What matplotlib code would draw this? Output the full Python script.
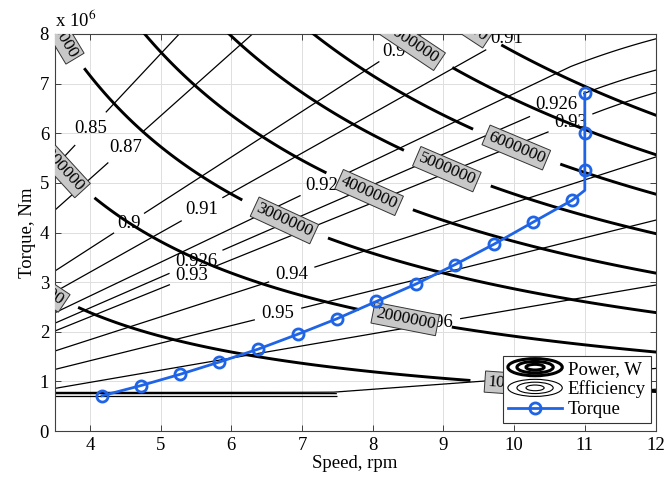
import numpy as np
import matplotlib
matplotlib.use('Agg')
import matplotlib.pyplot as plt
from matplotlib.legend_handler import HandlerBase
from matplotlib.patches import Ellipse
from matplotlib.lines import Line2D
from matplotlib.ticker import FuncFormatter, MultipleLocator

plt.rcParams['font.family'] = ['Liberation Serif', 'DejaVu Serif']
plt.rcParams['mathtext.fontset'] = 'stix'

# ---------------- data ----------------
speed_rpm = [4.17, 4.72, 5.27, 5.83, 6.38, 6.94, 7.49, 8.05, 8.61, 9.16,
             9.71, 10.27, 10.82, 11.0, 11.0, 11.0, 11.0]
torque_nm = [0.71e6, 0.915e6, 1.14e6, 1.39e6, 1.65e6, 1.95e6, 2.26e6, 2.61e6,
             2.96e6, 3.35e6, 3.76e6, 4.21e6, 4.65e6, 4.85e6, 5.26e6, 6.01e6, 6.82e6]
torque_marker_idx = [0, 1, 2, 3, 4, 5, 6, 7, 8, 9, 10, 11, 12, 14, 15, 16]

power_levels_w = [1e6, 2e6, 3e6, 4e6, 5e6, 6e6, 7e6, 8e6]
eff_levels = [0.85, 0.87, 0.90, 0.91, 0.92, 0.926, 0.93, 0.94, 0.95, 0.96,
              0.97, 0.975, 0.98]

# efficiency along rays of constant torque/speed ratio (1e6 Nm per rpm)
eff_ratio_knots = [0.00, 0.05, 0.07, 0.105, 0.245, 0.354, 0.46, 0.575, 0.62,
                   0.68, 0.80, 0.92, 1.27, 1.52, 3.0]
eff_ratio_vals = [0.99, 0.98, 0.975, 0.97, 0.96, 0.95, 0.94, 0.93, 0.926,
                  0.92, 0.91, 0.90, 0.87, 0.85, 0.75]
# low-torque band of the efficiency map
eff_lowT_knots = [0.70e6, 0.71e6, 0.7533e6, 0.78e6, 0.80e6]
eff_lowT_vals = [0.982, 0.98, 0.975, 0.97, 0.0]
lowT_band_max_speed = 7.5
lowT_band_top = 0.77e6
# slight droop of the map in the high-speed / high-torque corner
droop_gain = 0.0012
droop_speed = 10.8
droop_torque = 6.4e6

# contour label anchor points (speed, torque)
power_label_xy = [(3.25, 2.94e6), (10.05, 0.95e6), (3.58, 5.33e6), (8.46, 2.26e6),
                  (3.55, 8.07e6), (6.75, 4.24e6), (7.95, 4.81e6), (9.05, 5.28e6),
                  (10.03, 5.71e6), (8.56, 7.81e6), (9.25, 8.26e6)]
eff_label_xy = [(4.0, 6.1e6), (4.51, 5.7e6), (4.57, 4.16e6), (8.3, 7.65e6),
                (5.6, 4.44e6), (9.9, 7.9e6), (7.27, 4.97e6), (5.5, 3.41e6),
                (10.6, 6.57e6), (5.44, 3.13e6), (10.8, 6.2e6), (6.85, 3.17e6),
                (6.66, 2.36e6), (8.9, 2.2e6)]

# ---------------- fields ----------------
xs = np.linspace(2.5, 12.5, 700)
ts = np.linspace(0.70e6, 9.0e6, 1400)
X, T = np.meshgrid(xs, ts)

ratio = (T / 1e6) / X
eff_main = np.interp(ratio, eff_ratio_knots, eff_ratio_vals)
eff_low = np.interp(T, eff_lowT_knots, eff_lowT_vals, right=0.0)
E = np.maximum(eff_main, eff_low)
E = E - droop_gain * np.clip(X - droop_speed, 0, None) * np.clip((T - droop_torque) / 1e6, 0, None)
E = np.ma.masked_where((T < lowT_band_top) & (X > lowT_band_max_speed), E)

xs_p = np.linspace(2.5, 12.5, 500)
ts_p = np.linspace(0.0, 9.0e6, 900)
XP, TP = np.meshgrid(xs_p, ts_p)
PP = TP * XP * 2 * np.pi / 60.0

# ---------------- figure ----------------
fig = plt.figure(figsize=(6.69, 4.84), dpi=100)
ax = fig.add_axes([54.6 / 669, 53 / 484, (655.5 - 54.6) / 669, (431 - 34) / 484])

ax.grid(True, color='#dedede', lw=0.7)
ax.set_axisbelow(True)

cs_e = ax.contour(X, T, E, levels=eff_levels, colors='k', linewidths=0.9, zorder=2)
e_texts = ax.clabel(cs_e, manual=eff_label_xy, fmt=lambda v: f'{v:g}',
                    fontsize=13.5, inline=True, inline_spacing=4)
for t in e_texts:
    t.set_rotation(0)
    t.set_clip_on(True)

cs_p = ax.contour(XP, TP, PP, levels=power_levels_w, colors='k', linewidths=2.1, zorder=3)
p_texts = ax.clabel(cs_p, manual=power_label_xy, fmt='%d', fontsize=12.5,
                    inline=True, inline_spacing=10)
for t in p_texts:
    t.set_bbox(dict(boxstyle='square,pad=0.15', fc='#c8c8c8', ec='#333333', lw=0.7))
    t.set_clip_on(True)
    t.set_zorder(4)

blue = '#1f64e6'
ax.plot(speed_rpm, torque_nm, color=blue, lw=2.0, marker='o', ms=8,
        mfc='none', mec=blue, mew=2.0, markevery=torque_marker_idx, zorder=5)

ax.set_xlim(3.5, 12)
ax.set_ylim(0, 8e6)
ax.xaxis.set_major_locator(MultipleLocator(1))
ax.yaxis.set_major_locator(MultipleLocator(1e6))
ax.yaxis.set_major_formatter(FuncFormatter(lambda v, p: f'{v / 1e6:g}'))
ax.tick_params(direction='in', top=True, right=True, length=4, width=0.6,
               labelsize=13.5, colors='#262626', labelcolor='k', pad=4)
for s in ax.spines.values():
    s.set_color('#404040')
    s.set_linewidth(0.8)

ax.set_xlabel('Speed, rpm', fontsize=13.5, labelpad=1)
ax.set_ylabel('Torque, Nm', fontsize=13.5, labelpad=3)
ax.text(0.0, 1.008, r'x 10$^{6}$', transform=ax.transAxes, ha='left', va='bottom',
        fontsize=13.5)


class HandlerRings(HandlerBase):
    def __init__(self, lw, n=3):
        super().__init__()
        self.lw = lw
        self.n = n

    def create_artists(self, legend, orig_handle, xdescent, ydescent, width,
                       height, fontsize, trans):
        cx = width / 2 - xdescent
        cy = height / 2 - ydescent
        arts = []
        for i in range(self.n):
            f = (i + 1) / self.n
            arts.append(Ellipse((cx, cy), width * f, height * 1.3 * f, fill=False,
                                lw=self.lw, ec='k', transform=trans))
        return arts


h_pow = Line2D([], [], color='k')
h_eff = Line2D([], [], color='k')
h_tq = Line2D([], [], color=blue, lw=2.0, marker='o', ms=8, mfc='none', mec=blue, mew=2.0)
leg = ax.legend([h_pow, h_eff, h_tq], ['Power, W', 'Efficiency', 'Torque'],
                handler_map={h_pow: HandlerRings(2.2), h_eff: HandlerRings(0.8)},
                loc='lower right', bbox_to_anchor=(0.992, 0.02), fontsize=13.5,
                fancybox=False, framealpha=1, edgecolor='#333333', handlelength=2.9,
                handletextpad=0.3, borderpad=0.25, labelspacing=0.15, borderaxespad=0)
leg.get_frame().set_linewidth(0.8)
leg.set_zorder(10)

fig.savefig('out.png', dpi=100)
